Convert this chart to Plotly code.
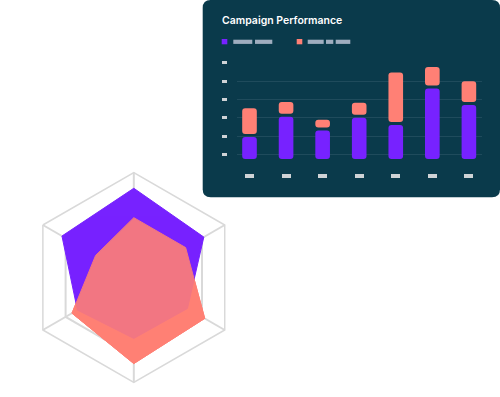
import plotly.graph_objects as go

# ---------------- data ----------------
weeks = ["W1", "W2", "W3", "W4", "W5", "W6", "W7"]
paid = [24, 46, 31, 45, 37, 77, 59]          # purple segment
organic = [28, 13, 8.5, 13, 54, 20, 22.5]    # salmon segment
y_grid = [5, 25, 45, 65, 85, 105]

radar_axes = ["Reach", "Engagement", "Conversion", "Retention", "Awareness", "Loyalty"]
radar_a = [85, 77, 59, 58, 62, 79]    # purple
radar_b = [57, 57, 78, 82, 68, 42]    # salmon
radar_grid = [75]

# ---------------- style ----------------
W, H = 500, 397
CARD = "#0a3a4b"
GRID = "#1f4b5c"
PURPLE = "#7722ff"
SALMON = "#ff8075"
TICKBLOB = "#cfd3d6"
LEGBLOB = "#9fadbf"
RADAR_GRID = "#d9d9d9"
GAP = 3.3        # gap between stacked segments (data units)


def px(x):
    return x / W


def py(y):
    return (H - y) / H


fig = go.Figure()

# ---------------- stacked bars ----------------
lo2 = [p + GAP for p in paid]
fig.add_trace(go.Bar(x=weeks, y=paid, base=[0] * len(paid), width=0.4,
                     marker=dict(color=PURPLE, line=dict(width=0), cornerradius=3),
                     showlegend=False, hoverinfo="skip"))
fig.add_trace(go.Bar(x=weeks, y=organic, base=lo2, width=0.4,
                     marker=dict(color=SALMON, line=dict(width=0), cornerradius=3),
                     showlegend=False, hoverinfo="skip"))

# ---------------- radar ----------------
def closed(v):
    return list(v) + [v[0]]


theta = closed(radar_axes)
fig.add_trace(go.Scatterpolar(r=closed(radar_b), theta=theta, fill="toself", fillcolor=SALMON,
                              line=dict(color=SALMON, width=1), mode="lines",
                              showlegend=False, hoverinfo="skip"))
fig.add_trace(go.Scatterpolar(r=closed(radar_a), theta=theta, fill="toself", fillcolor=PURPLE,
                              line=dict(color=PURPLE, width=1), mode="lines",
                              showlegend=False, hoverinfo="skip"))
fig.add_trace(go.Scatterpolar(r=closed(radar_b), theta=theta, fill="toself", fillcolor=SALMON,
                              line=dict(color=SALMON, width=1), mode="lines", opacity=0.9,
                              showlegend=False, hoverinfo="skip"))

# ---------------- card shape ----------------
x0, x1, y0, y1, rad = 202.7, 500, 0, 197.3, 8
card_path = (
    f"M {px(x0 + rad)},{py(y0)} L {px(x1 - rad)},{py(y0)} Q {px(x1)},{py(y0)} {px(x1)},{py(y0 + rad)} "
    f"L {px(x1)},{py(y1 - rad)} Q {px(x1)},{py(y1)} {px(x1 - rad)},{py(y1)} "
    f"L {px(x0 + rad)},{py(y1)} Q {px(x0)},{py(y1)} {px(x0)},{py(y1 - rad)} "
    f"L {px(x0)},{py(y0 + rad)} Q {px(x0)},{py(y0)} {px(x0 + rad)},{py(y0)} Z"
)
shapes = [dict(type="path", path=card_path, xref="paper", yref="paper",
               fillcolor=CARD, line=dict(width=0), layer="below")]


def rect(xa, xb, ya, yb, color):
    return dict(type="rect", xref="paper", yref="paper", x0=px(xa), x1=px(xb), y0=py(yb), y1=py(ya),
                fillcolor=color, line=dict(width=0), layer="above")


shapes += [
    rect(221.7, 227.3, 39.0, 44.3, PURPLE),
    rect(233.3, 252.3, 39.7, 43.9, LEGBLOB),
    rect(255.0, 272.3, 39.7, 43.9, LEGBLOB),
    rect(296.7, 302.3, 39.0, 44.3, SALMON),
    rect(307.7, 323.7, 39.7, 43.9, LEGBLOB),
    rect(326.0, 333.3, 39.7, 43.9, LEGBLOB),
    rect(335.7, 350.3, 39.7, 43.9, LEGBLOB),
]

fig.update_layout(
    width=W, height=H,
    margin=dict(l=0, r=0, t=0, b=0),
    paper_bgcolor="white",
    plot_bgcolor="rgba(0,0,0,0)",
    barmode="overlay",
    showlegend=False,
    shapes=shapes,
    xaxis=dict(domain=[px(236.7), px(481.7)], range=[-0.35, 6.35], type="category",
               anchor="free", position=py(173.3),
               showgrid=False, zeroline=False, showline=False, showticklabels=False,
               ticks="outside", ticklen=4, tickwidth=9, tickcolor=TICKBLOB),
    yaxis=dict(domain=[py(159), py(62.8)], range=[0, 105],
               anchor="free", position=px(227.3),
               tickmode="array", tickvals=y_grid,
               showgrid=True, gridcolor=GRID, gridwidth=1,
               zeroline=False, showline=False, showticklabels=False,
               ticks="outside", ticklen=5.6, tickwidth=3.3, tickcolor=TICKBLOB),
    polar=dict(
        domain=dict(x=[px(28.8), px(238.8)], y=[py(382.5), py(172.5)]),
        gridshape="linear",
        bgcolor="rgba(0,0,0,0)",
        radialaxis=dict(range=[0, 100], tickmode="array", tickvals=radar_grid, showticklabels=False,
                        ticks="", showline=False, gridcolor=RADAR_GRID, gridwidth=1.5),
        angularaxis=dict(rotation=90, direction="clockwise", showticklabels=False, ticks="",
                         gridcolor=RADAR_GRID, gridwidth=1.5,
                         showline=True, linecolor=RADAR_GRID, linewidth=1.5),
    ),
    annotations=[dict(text="Campaign Performance", x=px(220.2), y=py(20.5),
                      xref="paper", yref="paper", xanchor="left", yanchor="middle",
                      showarrow=False,
                      font=dict(family="Inter", size=10.5, weight=600, color="white"))],
)

fig.write_html("out.html", config={"displayModeBar": False},
               post_script="document.body.style.margin='0';document.body.style.overflow='hidden';")
